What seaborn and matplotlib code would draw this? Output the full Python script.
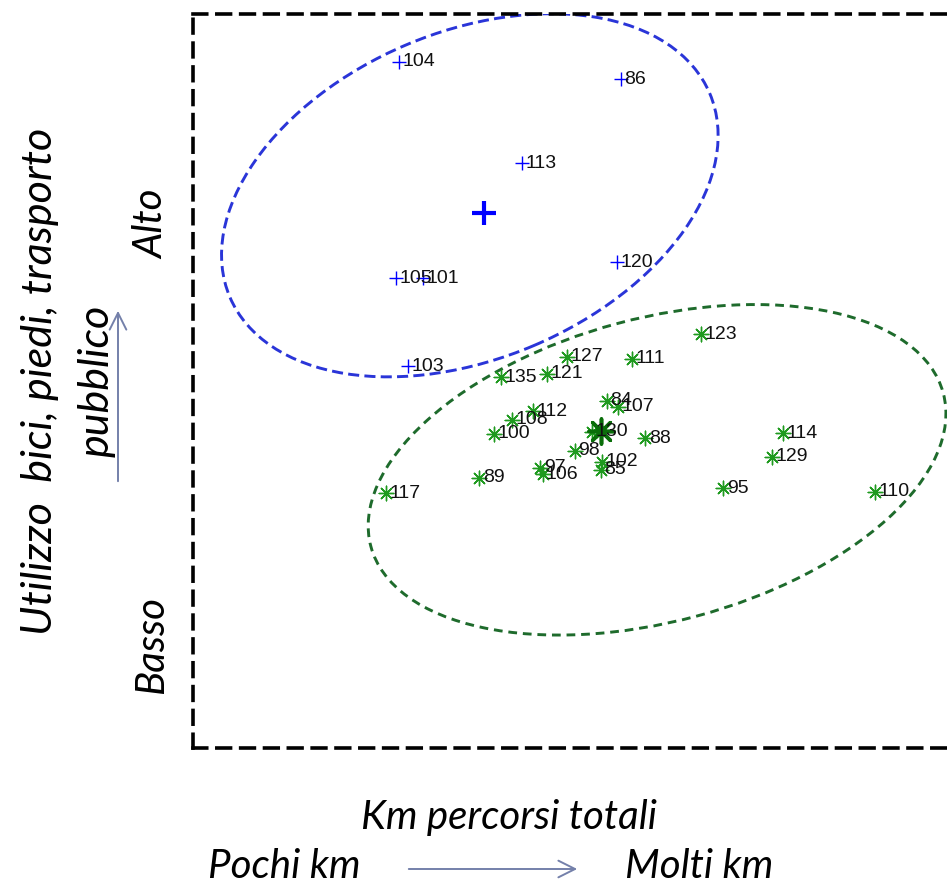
import numpy as np
import matplotlib
matplotlib.use("Agg")
import matplotlib.pyplot as plt
from matplotlib.patches import Ellipse, FancyArrowPatch
import seaborn as sns

# cluster 1 (blue, '+') : high use of bike / walking / public transport
blue_labels = ['104', '86', '113', '120', '105', '101', '103']
blue_x = [28.1, 58.3, 44.8, 57.8, 27.7, 31.3, 29.3]
blue_y = [93.5, 91.1, 79.7, 66.2, 64.0, 64.0, 52.0]

# cluster 2 (green, '*')
green_labels = ['127', '111', '135', '121', '84', '107', '112', '108', '100', '130', '88',
                '98', '102', '85', '97', '106', '89', '117', '123', '114', '129', '95', '110']
green_x = [51.0, 59.8, 42.0, 48.2, 56.4, 57.9, 46.3, 43.5, 41.0, 54.4, 61.6,
           52.0, 55.7, 55.5, 47.3, 47.6, 39.0, 26.3, 69.2, 80.3, 78.8, 72.2, 92.9]
green_y = [53.3, 53.0, 50.5, 51.0, 47.3, 46.5, 45.9, 44.7, 42.8, 43.1, 42.2,
           40.5, 39.0, 37.9, 38.2, 37.3, 36.8, 34.7, 56.4, 42.9, 39.7, 35.4, 34.9]

# ellipses drawn around the clusters: centre x, centre y, width, height, angle
blue_ellipse = [37.7, 75.3, 71.0, 44.5, 23]
green_ellipse = [63.2, 37.9, 80.7, 41.3, 15]

sns.set_style("white")
plt.rcParams['font.family'] = ['Liberation Sans', 'DejaVu Sans']

W, H = 947, 892
fig = plt.figure(figsize=(W / 100, H / 100), dpi=100)
# plot box: left 193px, top 14px, bottom 748px, right edge runs off the picture
ax = fig.add_axes([193 / W, (H - 748) / H, 771 / W, 734 / H])
ax.set_xlim(0, 105)
ax.set_ylim(0, 100)
ax.set_xticks([])
ax.set_yticks([])
for side in ['left', 'right', 'top', 'bottom']:
    ax.spines[side].set_visible(True)
    ax.spines[side].set_color('black')
    ax.spines[side].set_linewidth(2.6)
    ax.spines[side].set_linestyle((0, (3.8, 2.8)))

blue = '#0000ff'
green = '#1f9a1f'

sns.scatterplot(x=blue_x, y=blue_y, marker='+', color=blue, s=110, linewidth=1.0, ax=ax, zorder=3)
sns.scatterplot(x=[np.mean(blue_x)], y=[np.mean(blue_y)], marker='+', color=blue, s=280,
                linewidth=3.0, ax=ax, zorder=3)

star = (8, 2, 0)
sns.scatterplot(x=green_x, y=green_y, marker=star, color=green, s=110, linewidth=1.0, ax=ax, zorder=3)
sns.scatterplot(x=[np.mean(green_x)], y=[np.mean(green_y)], marker=star, color='#0a6e0a', s=320,
                linewidth=2.6, ax=ax, zorder=3)

for xs, ys, labs in [(blue_x, blue_y, blue_labels), (green_x, green_y, green_labels)]:
    for x, y, t in zip(xs, ys, labs):
        ax.annotate(t, (x, y), xytext=(2.5, 0), textcoords='offset points',
                    ha='left', va='center', fontsize=14, color='#111111', zorder=4)

for (cx, cy, w, h, ang), col, dash in [(blue_ellipse, '#2a35d8', (3.8, 1.8)),
                                       (green_ellipse, '#1e6b2c', (3.0, 2.0))]:
    ax.add_patch(Ellipse((cx, cy), w, h, angle=ang, fill=False, edgecolor=col,
                         linewidth=2.1, linestyle=(0, dash), zorder=2))

# axis captions around the box
lab_font = dict(family=['Lato', 'DejaVu Sans'], style='italic', color='black')
fig.text(509 / W, 1 - 817 / H, 'Km percorsi totali', ha='center', va='center', fontsize=29, **lab_font)
fig.text(284 / W, 1 - 866 / H, 'Pochi km', ha='center', va='center', fontsize=29, **lab_font)
fig.text(699 / W, 1 - 866 / H, 'Molti km', ha='center', va='center', fontsize=29, **lab_font)
fig.text(68 / W, 1 - 381 / H, 'Utilizzo  bici, piedi, trasporto\npubblico', rotation=90,
         ha='center', va='center', multialignment='center', fontsize=31, linespacing=1.6, **lab_font)
fig.text(152 / W, 1 - 224 / H, 'Alto', rotation=90, ha='center', va='center', fontsize=29, **lab_font)
fig.text(152 / W, 1 - 645 / H, 'Basso', rotation=90, ha='center', va='center', fontsize=29, **lab_font)

arrow_col = '#7480aa'
fig.add_artist(FancyArrowPatch((406 / W, 1 - 869 / H), (580 / W, 1 - 869 / H),
                               transform=fig.transFigure, arrowstyle='->',
                               mutation_scale=30, color=arrow_col, lw=1.4))
fig.add_artist(FancyArrowPatch((118 / W, 1 - 484 / H), (118 / W, 1 - 308 / H),
                               transform=fig.transFigure, arrowstyle='->',
                               mutation_scale=30, color=arrow_col, lw=1.4))

fig.savefig('out.png', dpi=100)
